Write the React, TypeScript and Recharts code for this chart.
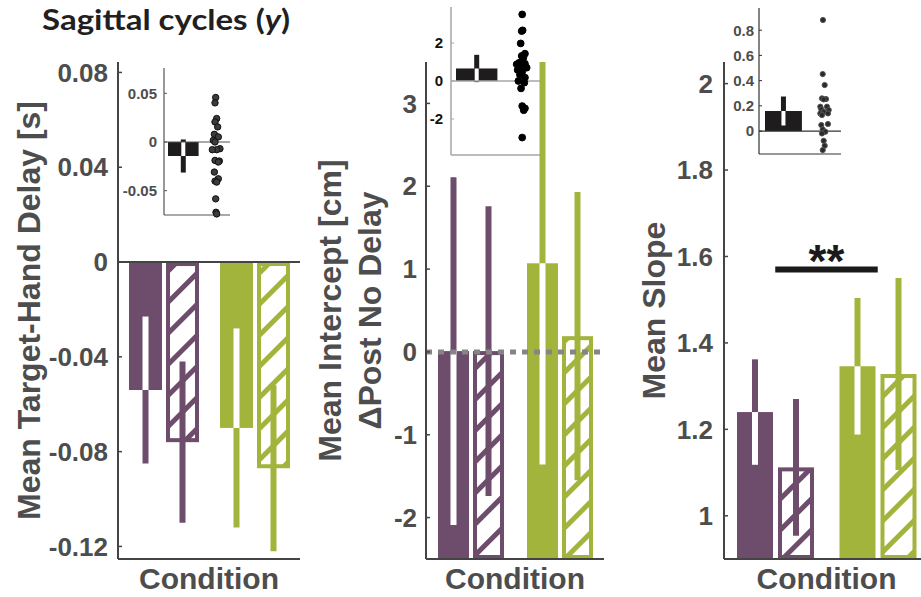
import React from 'react';
import { BarChart, Bar, XAxis, YAxis, ReferenceLine, ComposedChart, Scatter } from 'recharts';

const W = 940;
const H = 597;
const PURPLE = '#6e4c6c';
const GREEN = '#a3b43d';
const LABEL = '#4d4d4d';
const AXIS = '#444444';
const FONT = '"Liberation Sans", Arial, sans-serif';

// ---------- categories ----------
const groups = ['Group A', 'Group B'];
const groupColors = [PURPLE, GREEN];
const xTitle = 'Condition';

// ---------- panel 1: Mean Target-Hand Delay [s] ----------
const delaySolid = [-0.054, -0.07];
const delaySolidErr = [0.031, 0.042];
const delayHatched = [-0.076, -0.087];
const delayHatchedErr = [0.034, 0.035];
const delayTicks = [-0.12, -0.08, -0.04, 0, 0.04, 0.08];
const delayDomain: [number, number] = [-0.1253, 0.0844];
const delayBase = 0;
const delayTitle = ['Mean Target-Hand Delay [s]'];

// ---------- panel 2: Mean Intercept [cm] ----------
const interceptSolid = [0.01, 1.07];
const interceptSolidErr = [2.1, 2.43];
const interceptHatched = [0.01, 0.19];
const interceptHatchedErr = [1.75, 1.74];
const interceptTicks = [-2, -1, 0, 1, 2, 3];
const interceptDomain: [number, number] = [-2.5, 3.5];
const interceptBase = -2.5;
const interceptTitle = ['Mean Intercept [cm]', '\u0394Post No Delay'];

// ---------- panel 3: Mean Slope ----------
const slopeSolid = [1.24, 1.346];
const slopeSolidErr = [0.122, 0.158];
const slopeHatched = [1.112, 1.328];
const slopeHatchedErr = [0.158, 0.222];
const slopeTicks = [1, 1.2, 1.4, 1.6, 1.8, 2];
const slopeDomain: [number, number] = [0.9, 2.05];
const slopeBase = 0.9;
const slopeTitle = ['Mean Slope'];
const slopeSignifLevel = 1.57;
const slopeSignifText = '**';

// ---------- insets ----------
const inset1Mean = -0.0144;
const inset1Err = 0.017;
const inset1Ticks = [-0.05, 0, 0.05];
const inset1Domain: [number, number] = [-0.075, 0.076];
const inset1DotX = [0.783, 0.773, 0.798, 0.773, 0.813, 0.763, 0.823, 0.747, 0.773, 0.848, 0.798, 0.732, 0.773, 0.838, 0.823, 0.763, 0.823, 0.773, 0.798, 0.783, 0.788, 0.798];
const inset1DotY = [0.0457, 0.0402, 0.0241, 0.0206, 0.0155, 0.0079, 0.0052, 0.0017, 0.0, -0.0069, -0.0079, -0.0079, -0.0189, -0.0196, -0.0206, -0.0309, -0.0378, -0.0402, -0.0412, -0.0584, -0.0722, -0.0739];

const inset2Mean = 0.66;
const inset2Err = 0.72;
const inset2Ticks = [-2, 0, 2];
const inset2Domain: [number, number] = [-3.9, 3.9];
const inset2DotX = [0.8, 0.805, 0.794, 0.783, 0.831, 0.794, 0.813, 0.764, 0.738, 0.831, 0.775, 0.85, 0.749, 0.8, 0.775, 0.831, 0.757, 0.824, 0.787, 0.8, 0.831, 0.817, 0.8];
const inset2DotY = [3.51, 2.67, 2.63, 1.98, 1.44, 1.32, 1.23, 0.96, 0.88, 0.91, 0.75, 0.7, 0.58, 0.49, 0.32, 0.18, 0.0, -0.09, -0.39, -1.32, -1.44, -1.54, -2.98];

const inset3Mean = 0.159;
const inset3Err = 0.115;
const inset3Ticks = [0, 0.2, 0.4, 0.6, 0.8];
const inset3Domain: [number, number] = [-0.182, 0.976];
const inset3DotX = [0.78, 0.777, 0.801, 0.768, 0.817, 0.789, 0.748, 0.829, 0.76, 0.85, 0.789, 0.748, 0.841, 0.768, 0.76, 0.841, 0.777, 0.809, 0.768, 0.789, 0.801, 0.777];
const inset3DotY = [0.881, 0.452, 0.365, 0.259, 0.254, 0.251, 0.193, 0.193, 0.172, 0.167, 0.153, 0.14, 0.14, 0.127, 0.048, 0.056, 0.013, -0.005, -0.019, -0.077, -0.116, -0.151];

const titleText = 'Sagittal cycles (';
const titleVar = 'y';

// ---------- helpers ----------
type Rng = [number, number];
const rangeOf = (v: number, base: number): Rng => [Math.min(v, base), Math.max(v, base)];

function buildRows(solid: number[], solidErr: number[], hatched: number[], hatchedErr: number[], base: number) {
  return groups.map((g, i) => ({
    group: g,
    ci: i,
    solidRange: rangeOf(solid[i], base),
    solidV: solid[i],
    solidE: solidErr[i],
    hatchedRange: rangeOf(hatched[i], base),
    hatchedV: hatched[i],
    hatchedE: hatchedErr[i],
  }));
}

type ShapeOpts = {
  vKey: string;
  eKey: string;
  base: number;
  domain: Rng;
  hatched: boolean;
  fixedColor?: string;
  errW: number;
  innerW: number;
};

function makeBarShape(o: ShapeOpts) {
  return (props: any) => {
    const { x, y, width, height, payload } = props;
    if (x == null || y == null || payload == null) return <g />;
    const color = o.fixedColor || groupColors[payload.ci];
    const v: number = payload[o.vKey];
    const e: number = payload[o.eKey];
    const top = Math.min(y, y + height);
    const h = Math.abs(height);
    const span = Math.abs(v - o.base);
    if (span === 0 || h === 0) return <g />;
    const ppu = h / span;
    const vy = v < o.base ? top + h : top;
    const plotTop = vy - (o.domain[1] - v) * ppu;
    const plotBot = vy + (v - o.domain[0]) * ppu;
    const eTop = Math.max(plotTop, vy - e * ppu);
    const eBot = Math.min(plotBot, vy + e * ppu);
    const cx = x + width / 2;
    const inTop = Math.max(eTop, top);
    const inBot = Math.min(eBot, top + h);
    if (o.hatched) {
      return (
        <g>
          <rect x={x + 2} y={top + 2} width={width - 4} height={Math.max(0, h - 4)} fill={`url(#hatch-${payload.ci})`} stroke={color} strokeWidth={4} />
          <line x1={cx} x2={cx} y1={eTop} y2={eBot} stroke={color} strokeWidth={o.errW} />
        </g>
      );
    }
    return (
      <g>
        <rect x={x} y={top} width={width} height={h} fill={color} />
        <line x1={cx} x2={cx} y1={eTop} y2={eBot} stroke={color} strokeWidth={o.errW} />
        {inBot > inTop && <line x1={cx} x2={cx} y1={inTop} y2={inBot} stroke="#ffffff" strokeWidth={o.innerW} />}
      </g>
    );
  };
}

const yLabel = (lines: string[], offsets: number[]) => (props: any) => {
  const vb = props.viewBox || {};
  const axisX = (vb.x ?? 0) + (vb.width ?? 0);
  const cy = (vb.y ?? 0) + (vb.height ?? 0) / 2;
  return (
    <g>
      {lines.map((t, i) => {
        const lx = axisX - offsets[i];
        return (
          <text key={i} x={lx} y={cy} transform={`rotate(-90 ${lx} ${cy})`} textAnchor="middle" fontSize={32} fontWeight={700} fill={LABEL} fontFamily={FONT}>
            {t}
          </text>
        );
      })}
    </g>
  );
};

const xLabel = (props: any) => {
  const vb = props.viewBox || {};
  const cx = (vb.x ?? 0) + (vb.width ?? 0) / 2;
  const y = (vb.y ?? 0) + 30;
  return (
    <text x={cx} y={y} textAnchor="middle" fontSize={30} fontWeight={700} fill={LABEL} fontFamily={FONT}>
      {xTitle}
    </text>
  );
};

type Plot = { left: number; right: number; top: number; bottom: number };

function MainPanel(props: {
  rows: any[];
  domain: Rng;
  ticks: number[];
  base: number;
  plot: Plot;
  barSize: number;
  barGap: number;
  tickMargin: number;
  title: string[];
  titleOffsets: number[];
  children?: React.ReactNode;
}) {
  const { rows, domain, ticks, base, plot, barSize, barGap, tickMargin, title, titleOffsets } = props;
  const yw = 60;
  const xh = 30;
  return (
    <div style={{ position: 'absolute', left: 0, top: 0 }}>
      <BarChart
        width={W}
        height={H}
        data={rows}
        margin={{ left: plot.left - yw, right: W - plot.right, top: plot.top, bottom: H - plot.bottom - xh }}
        barSize={barSize}
        barGap={barGap}
      >
        <XAxis dataKey="group" tick={false} tickLine={false} height={xh} axisLine={{ stroke: AXIS, strokeWidth: 2 }} label={xLabel} />
        <YAxis
          type="number"
          width={yw}
          domain={domain}
          ticks={ticks}
          interval={0}
          tickSize={-4}
          tickMargin={tickMargin}
          tick={{ fontSize: 26, fontWeight: 700, fill: LABEL, fontFamily: FONT }}
          tickLine={{ stroke: AXIS, strokeWidth: 1.5 }}
          axisLine={{ stroke: AXIS, strokeWidth: 2 }}
          label={yLabel(title, titleOffsets)}
        />
        <Bar
          dataKey={(d: any) => d.solidRange}
          isAnimationActive={false}
          shape={makeBarShape({ vKey: 'solidV', eKey: 'solidE', base, domain, hatched: false, errW: 6, innerW: 6 })}
        />
        <Bar
          dataKey={(d: any) => d.hatchedRange}
          isAnimationActive={false}
          shape={makeBarShape({ vKey: 'hatchedV', eKey: 'hatchedE', base, domain, hatched: true, errW: 6, innerW: 6 })}
        />
        {props.children}
      </BarChart>
    </div>
  );
}

function Inset(props: {
  plot: Plot;
  domain: Rng;
  ticks: number[];
  mean: number;
  err: number;
  dotX: number[];
  dotY: number[];
  pad: [number, number];
  barSize: number;
  axisStroke: string;
  axisWidth: number;
  tickFill: string;
  tickMargin: number;
  dotR: number;
  dotFill: string;
  dotStroke: string;
}) {
  const p = props;
  const rows = [{ name: 'mean', ci: 0, range: rangeOf(p.mean, 0), v: p.mean, e: p.err }];
  const dots = p.dotX.map((x, i) => ({ x, y: p.dotY[i] }));
  const yw = 40;
  return (
    <div style={{ position: 'absolute', left: 0, top: 0 }}>
      <ComposedChart
        width={W}
        height={H}
        data={rows}
        margin={{ left: p.plot.left - yw, right: W - p.plot.right, top: p.plot.top, bottom: H - p.plot.bottom - 2 }}
      >
        <XAxis
          xAxisId="cat"
          dataKey="name"
          type="category"
          padding={{ left: p.pad[0], right: p.pad[1] }}
          tick={false}
          tickLine={false}
          height={2}
          axisLine={{ stroke: p.axisStroke, strokeWidth: p.axisWidth }}
        />
        <XAxis xAxisId="num" dataKey="x" type="number" domain={[0, 1]} hide />
        <YAxis
          type="number"
          width={yw}
          domain={p.domain}
          ticks={p.ticks}
          interval={0}
          tickSize={-3}
          tickMargin={p.tickMargin}
          tick={{ fontSize: 15, fontWeight: 700, fill: p.tickFill, fontFamily: FONT }}
          tickLine={{ stroke: p.axisStroke, strokeWidth: 1 }}
          axisLine={{ stroke: p.axisStroke, strokeWidth: p.axisWidth }}
        />
        <Bar
          xAxisId="cat"
          dataKey="range"
          barSize={p.barSize}
          isAnimationActive={false}
          shape={makeBarShape({ vKey: 'v', eKey: 'e', base: 0, domain: p.domain, hatched: false, fixedColor: '#1f1c1d', errW: 5, innerW: 4 })}
        />
        <ReferenceLine xAxisId="num" y={0} stroke={p.axisStroke} strokeWidth={p.axisWidth} />
        <Scatter
          xAxisId="num"
          data={dots}
          dataKey="y"
          isAnimationActive={false}
          shape={(s: any) => <circle cx={s.cx} cy={s.cy} r={p.dotR} fill={p.dotFill} stroke={p.dotStroke} strokeWidth={1} />}
        />
      </ComposedChart>
    </div>
  );
}

export default function App() {
  const rows1 = buildRows(delaySolid, delaySolidErr, delayHatched, delayHatchedErr, delayBase);
  const rows2 = buildRows(interceptSolid, interceptSolidErr, interceptHatched, interceptHatchedErr, interceptBase);
  const rows3 = buildRows(slopeSolid, slopeSolidErr, slopeHatched, slopeHatchedErr, slopeBase);

  return (
    <div style={{ position: 'absolute', left: 0, top: 0, width: 921, height: 597, overflow: 'hidden', background: '#ffffff' }}>
      <svg width={0} height={0} style={{ position: 'absolute' }}>
        <defs>
          {groupColors.map((c, i) => (
            <pattern key={i} id={`hatch-${i}`} patternUnits="userSpaceOnUse" width={22} height={22} patternTransform="rotate(45)">
              <rect x={0} y={0} width={22} height={22} fill="#ffffff" />
              <rect x={0} y={0} width={5} height={22} fill={c} />
            </pattern>
          ))}
        </defs>
      </svg>

      <Inset plot={{ left: 164, right: 230, top: 68, bottom: 215 }} domain={inset1Domain} ticks={inset1Ticks} mean={inset1Mean} err={inset1Err}
        dotX={inset1DotX} dotY={inset1DotY} pad={[2, 30]} barSize={34} axisStroke="#555555" axisWidth={1.2} tickFill={LABEL} tickMargin={10}
        dotR={3.2} dotFill="#3c3c3c" dotStroke="#111111" />
      <Inset plot={{ left: 451, right: 540, top: 7, bottom: 155 }} domain={inset2Domain} ticks={inset2Ticks} mean={inset2Mean} err={inset2Err}
        dotX={inset2DotX} dotY={inset2DotY} pad={[3, 40]} barSize={46} axisStroke="#a6a6a6" axisWidth={1.5} tickFill="#111111" tickMargin={11}
        dotR={3.4} dotFill="#000000" dotStroke="#000000" />
      <Inset plot={{ left: 759, right: 841, top: 8, bottom: 154 }} domain={inset3Domain} ticks={inset3Ticks} mean={inset3Mean} err={inset3Err}
        dotX={inset3DotX} dotY={inset3DotY} pad={[4, 37]} barSize={41} axisStroke="#333333" axisWidth={1.2} tickFill={LABEL} tickMargin={8}
        dotR={2.6} dotFill="#2a2a2a" dotStroke="#555555" />

      <MainPanel rows={rows1} domain={delayDomain} ticks={delayTicks} base={delayBase}
        plot={{ left: 118, right: 300, top: 62, bottom: 559 }} barSize={33} barGap={4} tickMargin={14}
        title={delayTitle} titleOffsets={[78]}>
        <ReferenceLine y={0} stroke={AXIS} strokeWidth={2} />
      </MainPanel>

      <MainPanel rows={rows2} domain={interceptDomain} ticks={interceptTicks} base={interceptBase}
        plot={{ left: 426, right: 604, top: 62, bottom: 559 }} barSize={31} barGap={4} tickMargin={13}
        title={interceptTitle} titleOffsets={[85, 45]}>
        <ReferenceLine y={0} stroke="#858585" strokeWidth={5} strokeDasharray="6 6" />
      </MainPanel>

      <MainPanel rows={rows3} domain={slopeDomain} ticks={slopeTicks} base={slopeBase}
        plot={{ left: 724, right: 929, top: 62, bottom: 559 }} barSize={36} barGap={5} tickMargin={15}
        title={slopeTitle} titleOffsets={[59]}>
        <ReferenceLine
          segment={[{ x: groups[0], y: slopeSignifLevel }, { x: groups[1], y: slopeSignifLevel }]}
          stroke="#1a1a1a"
          strokeWidth={6}
          label={(lp: any) => {
            const vb = lp.viewBox || {};
            const cx = (vb.x ?? 0) + (vb.width ?? 0) / 2;
            const ly = (vb.y ?? 0) + 8;
            return (
              <text x={cx} y={ly} textAnchor="middle" fontSize={46} fontWeight={700} fill="#1a1a1a" fontFamily={FONT}>
                {slopeSignifText}
              </text>
            );
          }}
        />
      </MainPanel>

      <svg width={921} height={60} style={{ position: 'absolute', left: 0, top: 0 }}>
        <text x={42} y={30} fontFamily="Lato, 'Open Sans', sans-serif" fontWeight={700} fontSize={29} fill="#231f20" textLength={248} lengthAdjust="spacingAndGlyphs">
          {titleText}
          <tspan fontStyle="italic">{titleVar}</tspan>)
        </text>
      </svg>
    </div>
  );
}
